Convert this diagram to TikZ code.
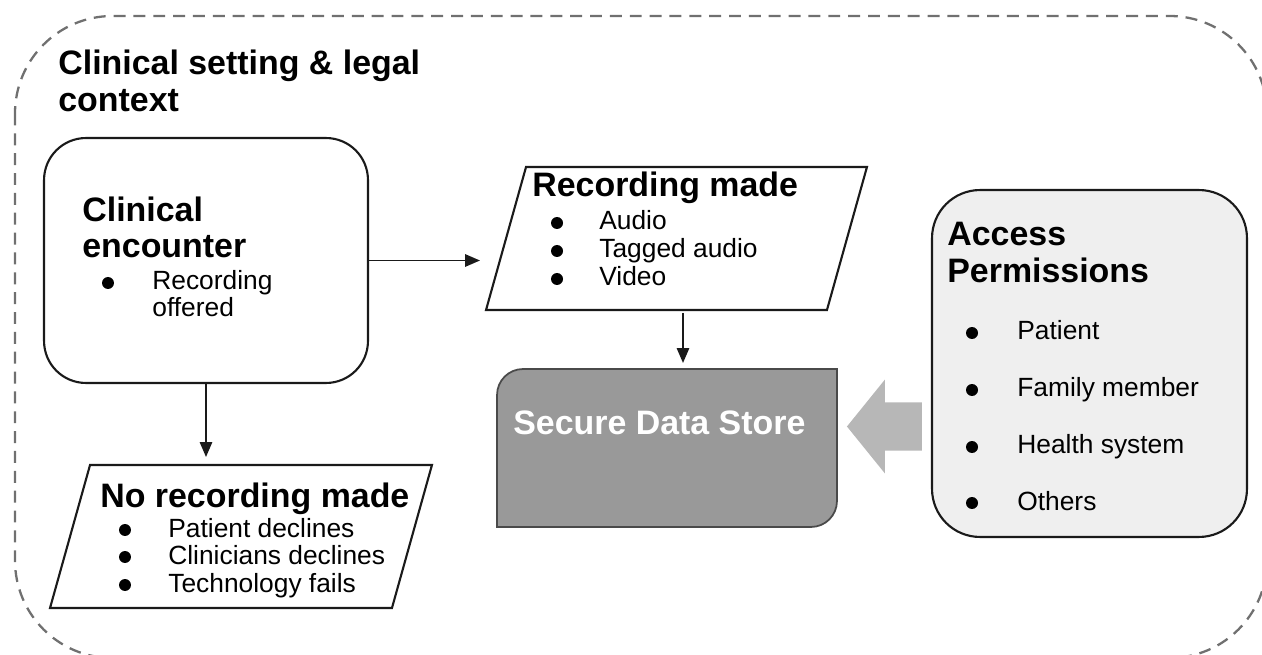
\documentclass[tikz,border=0pt]{standalone}
\usepackage{fontspec}
\setmainfont{Liberation Sans}
\usetikzlibrary{calc,arrows.meta}
\definecolor{dashgray}{HTML}{707070}
\definecolor{storefill}{HTML}{999999}
\definecolor{storeline}{HTML}{4A4A4A}
\definecolor{apfill}{HTML}{EFEFEF}
\definecolor{arrowfill}{HTML}{B7B7B7}
\definecolor{linecol}{HTML}{1A1A1A}
\tikzset{
  outer/.style={draw=dashgray, line width=1.3pt, dash pattern=on 6.8pt off 4.5pt},
  frame/.style={draw=linecol, line width=1.2pt},
  hit/.style={draw=none, rectangle, inner sep=0pt, outer sep=0pt},
  roundbox/.style={rectangle, draw=linecol, line width=1.2pt, inner sep=0pt},
  head/.style={font=\fontsize{19.3}{22}\selectfont\bfseries, inner sep=0pt, anchor=base west},
  body/.style={font=\fontsize{15}{18}\selectfont, inner sep=0pt, anchor=base west},
  bdot/.style={circle, fill=black, draw=none, inner sep=0pt, minimum size=0.24cm},
  conn/.style={draw=linecol, line width=1.1pt, -{Triangle[length=8.5pt,width=7pt]}},
  bigarrow/.style={fill=arrowfill, draw=none}
}
\begin{document}
\begin{tikzpicture}[x=0.02cm, y=-0.02cm]
\useasboundingbox (0,0) rectangle (1262,655);
\clip (0,0) rectangle (1262,655);

% outer dashed context frame
\draw[outer, rounded corners=1.95cm] (15,16) rectangle (1267,658);

% title
\node[head] (title1) at (58,75) {Clinical setting \& legal};
\node[head] (title2) at (58,112) {context};

% clinical encounter
\node[roundbox, rounded corners=0.84cm, minimum width=6.48cm, minimum height=4.9cm] (ce) at (206,260.5) {};
\node[head] (ce1) at (82,222) {Clinical};
\node[head] (ce2) at (82,258) {encounter};
\node[bdot] (ced1) at (108,283) {};
\node[body] (ce3) at (152,290) {Recording};
\node[body] (ce4) at (152,317) {offered};

% recording made (parallelogram)
\node[hit, minimum width=6.82cm, minimum height=2.86cm] (rm) at (676.5,238.5) {};
\draw[frame, fill=white] ([xshift=0.4cm]rm.north west) -- ([xshift=0.4cm]rm.north east)
  -- ([xshift=-0.4cm]rm.south east) -- ([xshift=-0.4cm]rm.south west) -- cycle;
\node[head] (rm1) at (532,197) {Recording made};
\node[bdot] (rmd1) at (557,223) {};
\node[bdot] (rmd2) at (557,251) {};
\node[bdot] (rmd3) at (557,279) {};
\node[body] (rm2) at (599,230) {Audio};
\node[body] (rm3) at (599,258) {Tagged audio};
\node[body] (rm4) at (599,286) {Video};

% no recording made (parallelogram)
\node[hit, minimum width=6.84cm, minimum height=2.86cm] (nr) at (241,536.5) {};
\draw[frame, fill=white] ([xshift=0.4cm]nr.north west) -- ([xshift=0.4cm]nr.north east)
  -- ([xshift=-0.4cm]nr.south east) -- ([xshift=-0.4cm]nr.south west) -- cycle;
\node[head] (nr1) at (100,507) {No recording made};
\node[bdot] (nrd1) at (125,530) {};
\node[bdot] (nrd2) at (125,557) {};
\node[bdot] (nrd3) at (125,585) {};
\node[body] (nr2) at (168,537) {Patient declines};
\node[body] (nr3) at (168,564) {Clinicians declines};
\node[body] (nr4) at (168,592) {Technology fails};

% secure data store
\node[hit, minimum width=6.8cm, minimum height=3.16cm] (store) at (667,448) {};
\draw[draw=storeline, line width=1pt, fill=storefill]
  (store.south west) -- ([yshift=-0.52cm]store.north west)
  arc[start angle=180, end angle=90, radius=0.52cm]
  -- (store.north east) -- ([yshift=0.52cm]store.south east)
  arc[start angle=0, end angle=-90, radius=0.52cm] -- cycle;
\node[head, text=white] (st1) at (513,435) {Secure Data Store};

% access permissions
\node[roundbox, fill=apfill, rounded corners=0.96cm, minimum width=6.3cm, minimum height=6.94cm] (ap) at (1089.5,363.5) {};
\node[head] (ap1) at (947,246) {Access};
\node[head] (ap2) at (947,283) {Permissions};
\node[bdot] (apd1) at (972,333) {};
\node[bdot] (apd2) at (972,390) {};
\node[bdot] (apd3) at (972,447) {};
\node[bdot] (apd4) at (972,503) {};
\node[body] (ap3) at (1017,340) {Patient};
\node[body] (ap4) at (1017,397) {Family member};
\node[body] (ap5) at (1017,454) {Health system};
\node[body] (ap6) at (1017,510) {Others};

% connectors
\draw[conn, shorten >=0.52cm] (ce.east) -- (ce.east -| rm.west);
\draw[conn, shorten >=0.16cm] (ce.south) -- (ce.south |- nr.north);
\draw[conn, shorten <=0.06cm, shorten >=0.12cm] ([xshift=0.13cm]rm.south) -- ([xshift=0.13cm]rm.south |- store.north);

% block arrow from access permissions to store
\fill[bigarrow] ($(store.east)+(10,-21.5)$) -- ($(store.east)+(48,-68.5)$) -- ($(store.east)+(48,-45.5)$)
  -- ($(store.east)+(85,-45.5)$) -- ($(store.east)+(85,2.5)$) -- ($(store.east)+(48,2.5)$)
  -- ($(store.east)+(48,25.5)$) -- cycle;
\end{tikzpicture}
\end{document}
